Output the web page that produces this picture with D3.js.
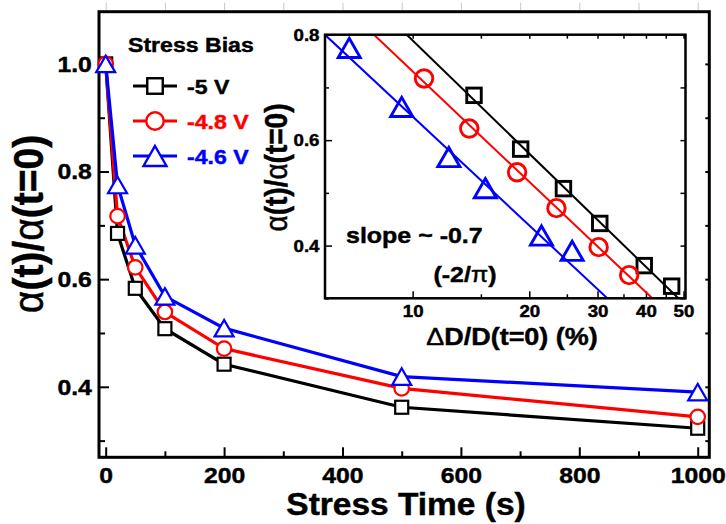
<!DOCTYPE html>
<html>
<head>
<meta charset="utf-8">
<script src="https://cdn.jsdelivr.net/npm/d3@7"></script>
<style>
  body { margin: 0; background: #fff; }
  svg { display: block; font-family: 'Liberation Sans', Arial, sans-serif; font-weight: bold; }
  svg text { stroke: currentColor; stroke-width: 0.45px; }
</style>
</head>
<body>
<svg id="chart" width="726" height="524"></svg>
<script>
// data
const stressTime = [0, 20, 50, 100, 200, 500, 1000];
const biasLabels = ['-5 V', '-4.8 V', '-4.6 V'];
const ratio5 = [1.0, 0.685, 0.583, 0.508, 0.442, 0.362, 0.323];
const ratio48 = [1.0, 0.717, 0.622, 0.539, 0.471, 0.397, 0.344];
const ratio46 = [1.0, 0.775, 0.663, 0.568, 0.509, 0.419, 0.390];

// inset: dD/D(t=0) in % for t = 20 ... 1000 s
const dd5 = [14.4, 19.0, 24.5, 30.4, 39.6, 46.6];
const dd48 = [10.7, 14.0, 18.6, 23.5, 30.2, 36.2];
const dd46 = [6.86, 9.37, 12.4, 15.4, 21.5, 25.8];
// fit lines  y = a + b * log10(x)
const fitA = [1.502, 1.4265, 1.3307];
const fitB = [-0.713, -0.696, -0.686];

const xTicks = [0, 200, 400, 600, 800, 1000];
const xMinor = [100, 300, 500, 700, 900];
const yTicks = [0.4, 0.6, 0.8, 1.0];
const yMinor = [0.3, 0.5, 0.7, 0.9];
const insetXTicks = [10, 20, 30, 40, 50];
const insetXMinor = [15, 25, 35, 45];
const insetYTicks = [0.4, 0.6, 0.8];
const insetYMinor = [0.3, 0.5, 0.7];

const colors = ['#000000', '#ff0000', '#0000ff'];
const shapes = ['square', 'circle', 'triangle'];
const series = [ratio5, ratio48, ratio46].map((v, i) => ({
  label: biasLabels[i], color: colors[i], shape: shapes[i],
  pts: stressTime.map((t, j) => ({ x: t, y: v[j] })),
  inset: [dd5, dd48, dd46][i].map((d, j) => ({ x: d, y: v[j + 1] }))
}));

const svg = d3.select('#chart');
const SX = 1.1; // the original text is a bit wide

const stretch = sel => sel.attr('transform', `scale(${SX},1)`);

function marker(g, shape, cx, cy, s, color, sw, fill) {
  let m;
  if (shape === 'square') {
    m = g.append('rect').attr('x', cx - s / 2).attr('y', cy - s / 2)
      .attr('width', s).attr('height', s);
  } else if (shape === 'circle') {
    m = g.append('circle').attr('cx', cx).attr('cy', cy).attr('r', s / 2);
  } else {
    const h = s * 0.87;
    m = g.append('path')
      .attr('d', `M${cx},${cy - h / 2}L${cx + s / 2},${cy + h / 2}L${cx - s / 2},${cy + h / 2}Z`);
  }
  m.attr('fill', fill).attr('stroke', color).attr('stroke-width', sw);
}
const mainSize = { square: 13, circle: 14.5, triangle: 19 };
const insetSize = { square: 14.5, circle: 17.5, triangle: 22 };
const legendSize = { square: 15.5, circle: 17.5, triangle: 23 };

// ---------- main plot ----------
const x = d3.scaleLinear().domain([-11.3, 1019.6]).range([99, 709.3]);
const y = d3.scaleLinear().domain([0.269, 1.097]).range([457.3, 11.7]);

const axisStyle = (g, fs) => {
  g.select('.domain').remove();
  g.selectAll('.tick line').attr('stroke', '#000').attr('stroke-width', 2);
  g.selectAll('text').attr('fill', '#000').attr('color', '#000').attr('font-size', fs).call(stretch);
};

svg.append('g').attr('transform', 'translate(0,457.3)')
  .call(d3.axisBottom(x).tickValues(xTicks).tickSize(-10).tickPadding(9.5).tickFormat(d3.format('d')))
  .call(axisStyle, 22.5);
svg.append('g').attr('transform', 'translate(0,457.3)')
  .call(d3.axisBottom(x).tickValues(xMinor).tickSize(-6).tickFormat(''))
  .call(axisStyle, 0);
svg.append('g').attr('transform', 'translate(99,0)')
  .call(d3.axisLeft(y).tickValues(yTicks).tickSize(-10).tickPadding(6.5).tickFormat(d3.format('.1f')))
  .call(axisStyle, 22.5);
svg.append('g').attr('transform', 'translate(99,0)')
  .call(d3.axisLeft(y).tickValues(yMinor).tickSize(-6).tickFormat(''))
  .call(axisStyle, 0);
svg.append('g').attr('transform', 'translate(709.3,0)')
  .call(d3.axisRight(y).tickValues(yTicks.concat(yMinor)).tickSize(-4).tickFormat(''))
  .call(axisStyle, 0);
svg.append('g').attr('transform', 'translate(0,11.7)')
  .call(d3.axisTop(x).tickValues(xTicks.concat(xMinor)).tickSize(9).tickFormat(''))
  .call(axisStyle, 0)
  .selectAll('.tick line').attr('stroke', '#c8c8c8').attr('stroke-width', 1);

svg.append('rect').attr('x', 99).attr('y', 11.7).attr('width', 709.3 - 99).attr('height', 457.3 - 11.7)
  .attr('fill', 'none').attr('stroke', '#000').attr('stroke-width', 3);

const line = d3.line().x(d => x(d.x)).y(d => y(d.y));
series.forEach(s => {
  svg.append('path').datum(s.pts).attr('d', line)
    .attr('fill', 'none').attr('stroke', s.color).attr('stroke-width', 3.2);
});
series.forEach(s => {
  const g = svg.append('g');
  s.pts.forEach(p => marker(g, s.shape, x(p.x), y(p.y), mainSize[s.shape], s.color, 2.2, '#fff'));
});

// axis titles
svg.append('text').attr('transform', 'translate(406,515) scale(1.08,1)')
  .attr('text-anchor', 'middle').attr('font-size', 31).text('Stress Time (s)');
const yt = svg.append('text').attr('transform', `translate(43,224) rotate(-90) scale(1,${SX})`)
  .attr('text-anchor', 'middle').attr('font-size', 39);
yt.append('tspan').attr('font-weight', 'normal').text('α');
yt.append('tspan').text('(t)/');
yt.append('tspan').attr('font-weight', 'normal').text('α');
yt.append('tspan').text('(t=0)');

// legend
svg.append('text').attr('transform', 'translate(128,51.7) scale(1.1,1)')
  .attr('font-size', 21).text('Stress Bias');
const legY = [86, 121, 156];
series.forEach((s, i) => {
  const g = svg.append('g');
  g.append('line').attr('x1', 133).attr('x2', 177).attr('y1', legY[i]).attr('y2', legY[i])
    .attr('stroke', s.color).attr('stroke-width', 3.2);
  marker(g, s.shape, 155, legY[i], legendSize[s.shape], s.color, 2.4, '#fff');
  g.append('text').attr('transform', `translate(187,${legY[i] + 7.5}) scale(1.1,1)`)
    .attr('font-size', 21).attr('fill', s.color).attr('color', s.color).text(s.label);
});

// ---------- inset ----------
const ix = d3.scaleLog().domain([5.94, 50.6]).range([325, 685.5]);
const iy = d3.scaleLinear().domain([0.3, 0.8]).range([298.3, 34.7]);

svg.append('rect').attr('x', 325).attr('y', 34.7).attr('width', 685.5 - 325).attr('height', 298.3 - 34.7)
  .attr('fill', '#fff');

const insetAxisStyle = (g, fs) => {
  g.select('.domain').remove();
  g.selectAll('.tick line').attr('stroke', '#000').attr('stroke-width', 1.5);
  g.selectAll('text').attr('fill', '#000').attr('color', '#000').attr('font-size', fs).call(stretch);
};
svg.append('g').attr('transform', 'translate(0,298.3)')
  .call(d3.axisBottom(ix).tickValues(insetXTicks).tickSize(-7).tickPadding(7).tickFormat(d3.format('d')))
  .call(insetAxisStyle, 17);
svg.append('g').attr('transform', 'translate(0,298.3)')
  .call(d3.axisBottom(ix).tickValues(insetXMinor).tickSize(-4).tickFormat(''))
  .call(insetAxisStyle, 0);
svg.append('g').attr('transform', 'translate(325,0)')
  .call(d3.axisLeft(iy).tickValues(insetYTicks).tickSize(-7).tickPadding(5).tickFormat(d3.format('.1f')))
  .call(insetAxisStyle, 17);
svg.append('g').attr('transform', 'translate(325,0)')
  .call(d3.axisLeft(iy).tickValues(insetYMinor).tickSize(-4).tickFormat(''))
  .call(insetAxisStyle, 0);
svg.append('g').attr('transform', 'translate(685.5,0)')
  .call(d3.axisRight(iy).tickValues(insetYTicks.concat(insetYMinor)).tickSize(-5).tickFormat(''))
  .call(insetAxisStyle, 0);
svg.append('g').attr('transform', 'translate(0,34.7)')
  .call(d3.axisTop(ix).tickValues(insetXTicks.concat(insetXMinor)).tickSize(-4).tickFormat(''))
  .call(insetAxisStyle, 0);

svg.append('clipPath').attr('id', 'insetClip').append('rect')
  .attr('x', 325).attr('y', 34.7).attr('width', 685.5 - 325).attr('height', 298.3 - 34.7);

const inset = svg.append('g').attr('clip-path', 'url(#insetClip)');
const ends = ix.domain();
series.forEach((s, i) => {
  const fit = ends.map(d => ({ x: d, y: fitA[i] + fitB[i] * Math.log10(d) }));
  inset.append('path').datum(fit)
    .attr('d', d3.line().x(d => ix(d.x)).y(d => iy(d.y)))
    .attr('fill', 'none').attr('stroke', s.color).attr('stroke-width', 2);
});
const insetMarks = svg.append('g');
series.forEach(s => {
  s.inset.forEach(p => marker(insetMarks, s.shape, ix(p.x), iy(p.y), insetSize[s.shape], s.color, 2.9, 'none'));
});

svg.append('rect').attr('x', 325).attr('y', 34.7).attr('width', 685.5 - 325).attr('height', 298.3 - 34.7)
  .attr('fill', 'none').attr('stroke', '#000').attr('stroke-width', 2.5);

// inset titles and note
const dt = svg.append('text').attr('transform', 'translate(512,345) scale(1.1,1)')
  .attr('text-anchor', 'middle').attr('font-size', 24.5);
dt.append('tspan').attr('font-weight', 'normal').text('Δ');
dt.append('tspan').text('D/D(t=0) (%)');

const iyt = svg.append('text').attr('transform', `translate(287,167.5) rotate(-90) scale(1,${SX})`)
  .attr('text-anchor', 'middle').attr('font-size', 28);
iyt.append('tspan').attr('font-weight', 'normal').text('α');
iyt.append('tspan').text('(t)/');
iyt.append('tspan').attr('font-weight', 'normal').text('α');
iyt.append('tspan').text('(t=0)');

svg.append('text').attr('transform', 'translate(346,243) scale(1.1,1)')
  .attr('font-size', 22.7).text('slope ~ -0.7');
const pi = svg.append('text').attr('transform', 'translate(465,281.7) scale(1.1,1)')
  .attr('text-anchor', 'middle').attr('font-size', 22.7);
pi.append('tspan').text('(-2/');
pi.append('tspan').attr('font-weight', 'normal').text('π');
pi.append('tspan').text(')');
</script>
</body>
</html>
